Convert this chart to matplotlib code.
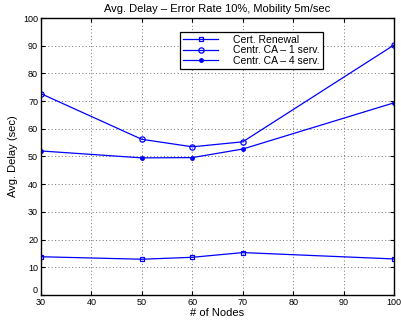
import matplotlib
matplotlib.use("Agg")
import matplotlib.pyplot as plt
import matplotlib.transforms as mtransforms

plt.rcParams['font.family'] = ['Liberation Sans', 'DejaVu Sans']

nodes = [30, 50, 60, 70, 100]
cert_renewal = [13.8, 12.9, 13.6, 15.3, 13.0]
centr_1serv = [72.7, 56.2, 53.5, 55.3, 90.3]
centr_4serv = [52.0, 49.5, 49.6, 52.7, 69.4]

fig = plt.figure(figsize=(4.01, 3.22), dpi=100)
ax = fig.add_axes([0.102, 0.084, 0.881, 0.86])

ax.plot(nodes, cert_renewal, 'bs-', mfc='none', ms=3.2, lw=0.9, mew=0.9, label='Cert. Renewal')
ax.plot(nodes, centr_1serv, 'bo-', mfc='none', ms=3.8, lw=0.9, mew=0.9, label='Centr. CA \u2013 1 serv.')
ax.plot(nodes, centr_4serv, 'b.-', ms=5, lw=0.9, label='Centr. CA \u2013 4 serv.')

ax.set_xlim(30, 100)
ax.set_ylim(0, 100)
ax.set_xticks([30, 40, 50, 60, 70, 80, 90, 100])
ax.set_yticks(range(0, 101, 10))
ax.tick_params(direction='in', labelsize=6.5, length=3, top=True, right=True, pad=2)
ax.grid(True, linestyle=(0, (1, 2.5)), color='0.45', lw=0.7)
for s in ax.spines.values():
    s.set_linewidth(1.0)

# the "0" label sits a bit higher, like in the original
fig.canvas.draw()
lab0 = ax.get_yticklabels()[0]
lab0.set_transform(lab0.get_transform() + mtransforms.ScaledTranslation(0, 4 / 72, fig.dpi_scale_trans))

ax.set_xlabel('# of Nodes', fontsize=8, labelpad=1)
ax.set_ylabel('Avg. Delay (sec)', fontsize=8, labelpad=4)
ax.set_title('Avg. Delay \u2013 Error Rate 10%, Mobility 5m/sec', fontsize=8, pad=4)

leg = ax.legend(loc='upper left', bbox_to_anchor=(0.38, 0.97), fontsize=7.5,
                fancybox=False, edgecolor='black', framealpha=1,
                handlelength=3.3, borderpad=0.3, labelspacing=0.05, handletextpad=1.5)
leg.get_frame().set_linewidth(0.9)

fig.savefig("out.png", dpi=100)
